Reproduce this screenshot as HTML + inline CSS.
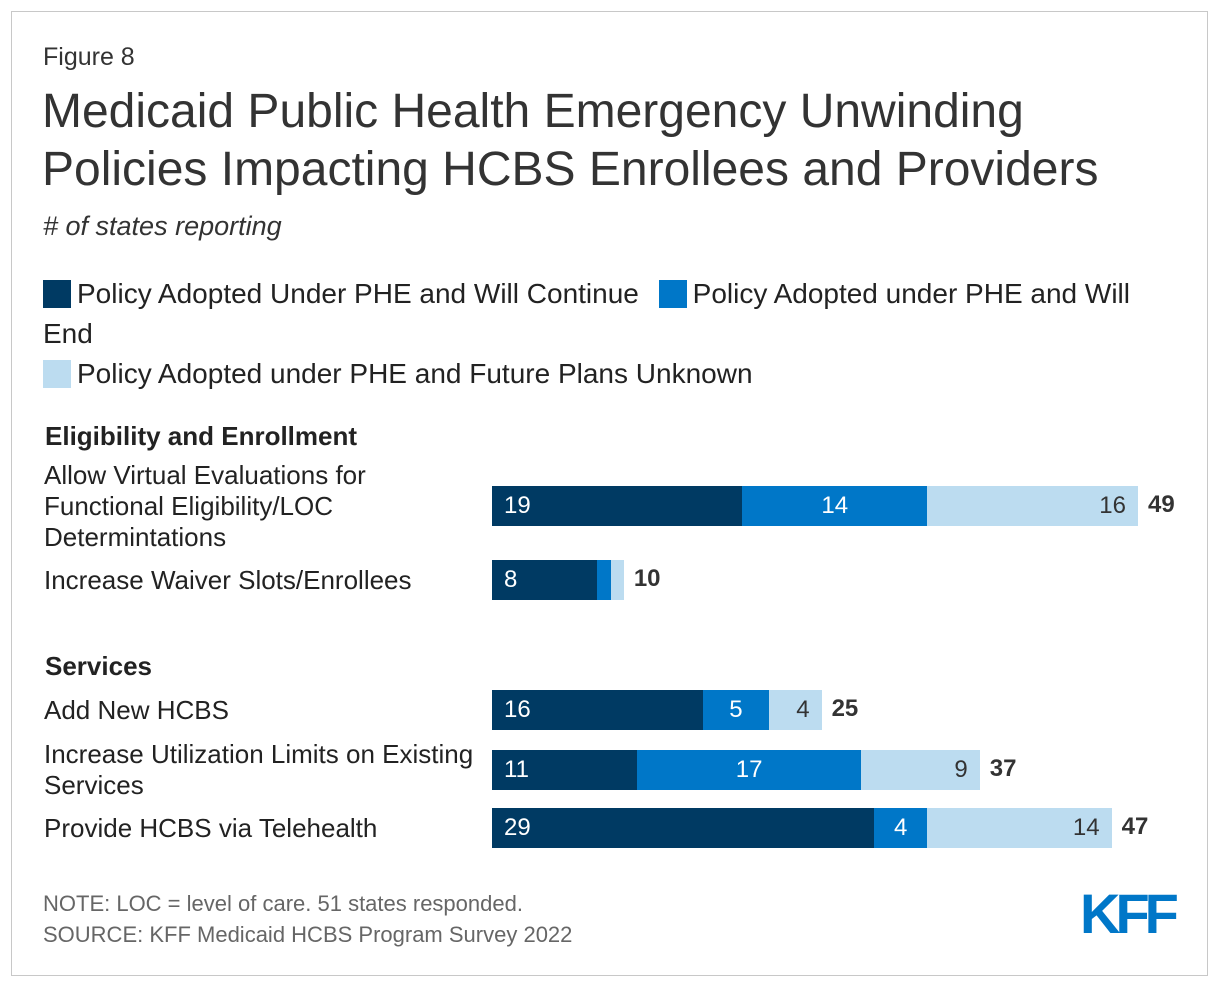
<!DOCTYPE html>
<html><head><meta charset="utf-8"><style>
body{margin:0;width:1220px;height:990px;background:#fff;font-family:"Liberation Sans",Arial,sans-serif;color:#333;position:relative;overflow:hidden}
.frame{position:absolute;left:11px;top:11px;width:1197px;height:965px;border:1px solid #c8c8c8;box-sizing:border-box}
.t{position:absolute;white-space:nowrap}
.sw{display:inline-block;width:28px;height:28px;vertical-align:-5px;margin-right:6px}
.lab{font-size:26px;color:#222;line-height:31px}
</style></head><body>
<div class="frame"></div>
<div class="t" style="left:43px;top:43px;font-size:25px">Figure 8</div>
<div class="t" style="left:42px;top:83px;font-size:48px;line-height:58px;color:#333">Medicaid Public Health Emergency Unwinding<br>Policies Impacting HCBS Enrollees and Providers</div>
<div class="t" style="left:43px;top:211px;font-size:27px;font-style:italic"># of states reporting</div>
<div class="t lab" style="left:43px;top:274px;font-size:28px;line-height:40px">
<span><span class="sw" style="background:#003a63"></span>Policy Adopted Under PHE and Will Continue</span>
<span style="margin-left:12px"><span class="sw" style="background:#0077c8"></span>Policy Adopted under PHE and Will</span><br>End<br>
<span><span class="sw" style="background:#bcdcf0"></span>Policy Adopted under PHE and Future Plans Unknown</span></div>
<div class="t" style="left:45px;top:421px;font-size:26px;font-weight:bold;color:#222">Eligibility and Enrollment</div>
<div class="t" style="left:45px;top:651px;font-size:26px;font-weight:bold;color:#222">Services</div>
<div id="chart"></div>
<div class="t" style="left:43px;top:888px;font-size:22px;color:#666;line-height:31px">NOTE: LOC = level of care. 51 states responded.<br>SOURCE: KFF Medicaid HCBS Program Survey 2022</div>
<div class="t" style="left:1080px;top:881px;font-size:56px;font-weight:bold;color:#0077c8;letter-spacing:-5px">KFF</div>
<script>
const categories=["Allow Virtual Evaluations for<br>Functional Eligibility/LOC<br>Determintations","Increase Waiver Slots/Enrollees","Add New HCBS","Increase Utilization Limits on Existing<br>Services","Provide HCBS via Telehealth"];
const continueVals=[19,8,16,11,29];
const endVals=[14,1,5,17,4];
const unknownVals=[16,1,4,9,14];
const rowY=[486,560,690,750,808];
const x0=492,pxPer=646/49,barH=40;
const colors=["#003a63","#0077c8","#bcdcf0"];
const sx=v=>v*pxPer;
const c=document.getElementById('chart');
categories.forEach((cat,i)=>{
  const y=rowY[i];
  const l=document.createElement('div');
  l.className='t lab';
  
  
  const lines=cat.split('<br>').length;
  l.style.left='44px';l.style.top=(y+20-lines*31/2)+'px';
  l.innerHTML=cat;c.appendChild(l);
  const vals=[continueVals[i],endVals[i],unknownVals[i]];
  let x=x0;
  vals.forEach((v,j)=>{
    const b=document.createElement('div');
    
    
    b.style.cssText=`position:absolute;left:${x}px;top:${y}px;width:${sx(v)}px;height:${barH}px;background:${colors[j]}`;
    c.appendChild(b);
    if(sx(v)>30){
      const t=document.createElement('div');
      
      
      t.className='t';t.textContent=v;
      const col=j==2?'#333':'#fff';
      let pos=j==0?`left:${x+12}px`:j==1?`left:${x}px;width:${sx(v)}px;text-align:center`:`left:${x}px;width:${sx(v)-12}px;text-align:right`;
      t.style.cssText+=`;${pos};top:${y+6}px;font-size:24px;color:${col}`;
      c.appendChild(t);
    }
    x+=sx(v);
  });
  const tt=document.createElement('div');
  
  
  tt.className='t';tt.textContent=vals[0]+vals[1]+vals[2];
  tt.style.cssText+=`;left:${x+10}px;top:${y+5}px;font-size:24px;font-weight:bold;color:#333`;
  c.appendChild(tt);
});
</script>
</body></html>
